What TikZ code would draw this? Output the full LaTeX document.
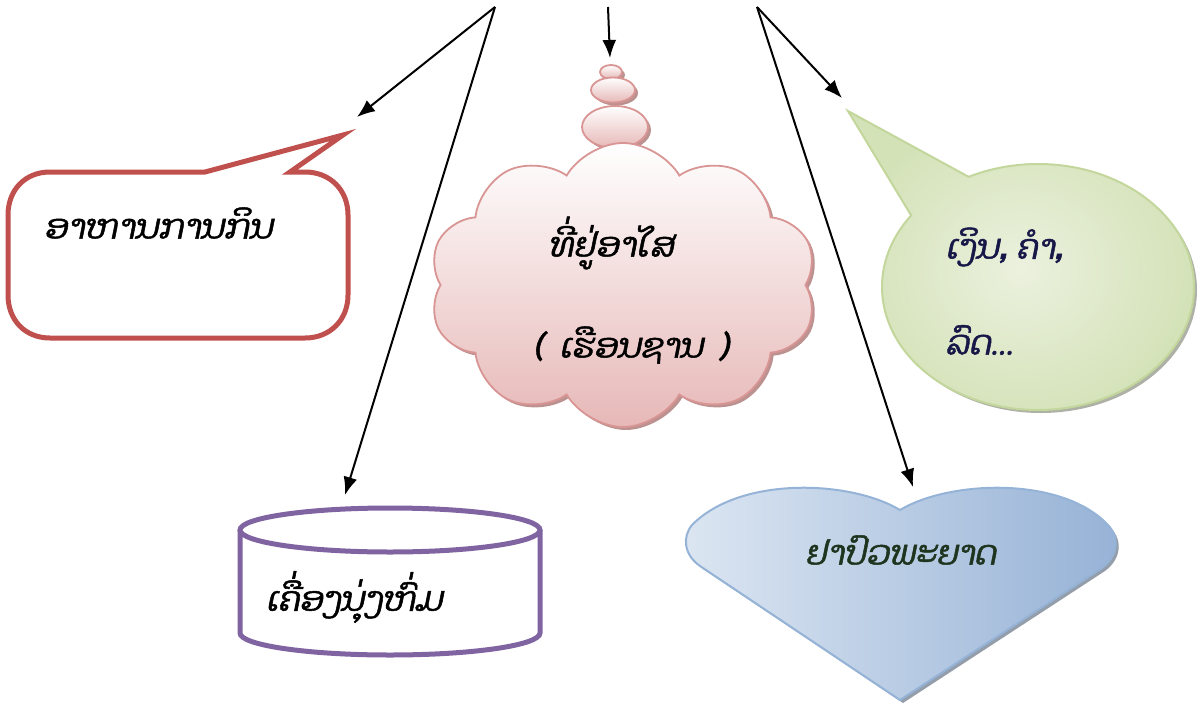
\documentclass[tikz,border=0pt]{standalone}
\usepackage{fontspec}
\usepackage{tikz}
\usetikzlibrary{shapes.geometric, shapes.symbols, shapes.callouts, arrows.meta, shadows}
\newfontfamily\laofont[Script=Lao,FakeSlant=0.2,FakeBold=1.5]{Dhyana}
\definecolor{foodred}{RGB}{192, 80, 77}
\definecolor{clothpurple}{RGB}{128, 100, 162}
\definecolor{cloudline}{RGB}{217, 149, 148}
\definecolor{cloudpink}{RGB}{230, 184, 183}
\definecolor{cloudshadow}{RGB}{160, 100, 98}
\definecolor{moneyline}{RGB}{195, 214, 155}
\definecolor{moneylight}{RGB}{235, 241, 222}
\definecolor{moneydark}{RGB}{212, 226, 184}
\definecolor{moneyink}{RGB}{24, 24, 72}
\definecolor{heartline}{RGB}{149, 179, 215}
\definecolor{heartlight}{RGB}{220, 230, 242}
\definecolor{heartdark}{RGB}{150, 178, 214}
\definecolor{heartink}{RGB}{30, 52, 30}

\begin{document}
\begin{tikzpicture}[x=0.5pt, y=-0.5pt,
    laotext/.style={font=\laofont\fontsize{17}{20}\selectfont, inner sep=0pt},
    arrow/.style={-{Latex[length=9pt,width=7pt]}, line width=1pt},
    bubble/.style={ellipse, draw=cloudline, line width=0.9pt, top color=white, bottom color=cloudpink, inner sep=0pt,
        drop shadow={shadow xshift=1.5pt, shadow yshift=-1.5pt, fill=cloudshadow, opacity=0.7}}
]
\useasboundingbox (0,0) rectangle (1201,707);

% Top start points
\coordinate (srcleft) at (495,7);
\coordinate (srcmid) at (608,7);
\coordinate (srcright) at (757,7);

% Arrow ends
\coordinate (foodtip) at (357,117);
\coordinate (clothtip) at (345,495);
\coordinate (hometip) at (610,58);
\coordinate (moneytip) at (842,98);
\coordinate (medtip) at (913,487);

% Food callout
\draw[draw=foodred, line width=2.5pt, fill=white]
    (205,172) -- (343,135) -- (290,172) -- (305,172)
    .. controls (330,172) and (348,190) .. (348,215) -- (348,295)
    .. controls (348,320) and (330,338) .. (305,338) -- (50,338)
    .. controls (25,338) and (8,320) .. (8,295) -- (8,215)
    .. controls (8,190) and (25,172) .. (50,172) -- cycle;
\node[laotext] (food) at (158,223) {ອາຫານການກິນ};

% Home cloud
\node[bubble, minimum width=11pt, minimum height=7pt] (puffsmall) at (611,72) {};
\node[bubble, minimum width=22pt, minimum height=12.5pt] (puffmid) at (613,90) {};
\node[bubble, minimum width=33pt, minimum height=21pt] (pufflarge) at (615,127) {};
\node[cloud, cloud puffs=10, cloud puff arc=120, draw=cloudline, line width=0.9pt,
    top color=white, bottom color=cloudpink, minimum width=194pt, minimum height=142pt,
    drop shadow={shadow xshift=1.5pt, shadow yshift=-1.5pt, fill=cloudshadow, opacity=0.7}] (cloud) at (623,285) {};
\node[laotext] (home) at (611,243) {ທີ່ຢູ່ອາໄສ};
\node[laotext] (house) at (631,345) {(~~ເຮືອນຊານ~~)};

% Money callout
\node[ellipse callout, draw=moneyline, line width=1pt, inner color=moneylight, outer color=moneydark,
    minimum width=156pt, minimum height=123pt, callout absolute pointer={(848,111)}, callout pointer arc=28,
    drop shadow={shadow xshift=1.5pt, shadow yshift=-1.5pt, fill=gray!70!moneydark, opacity=0.8}] (moneybubble) at (1038,287) {};
\node[laotext, text=moneyink, anchor=west] (money) at (945,247) {ເງິນ,  ຄຳ,};
\node[laotext, text=moneyink, anchor=west] (car) at (945,340) {ລົດ...};

% Clothes cylinder
\path[draw=clothpurple, line width=2.5pt, fill=white]
    (240,530) -- (240,633) arc[start angle=180, end angle=0, x radius=150, y radius=22] -- (540,530);
\draw[clothpurple, line width=2.5pt, fill=white] (390,530) ellipse[x radius=150, y radius=22];
\node[laotext] (clothes) at (354,597) {ເຄື່ອງນຸ່ງຫົ່ມ};

% Medicine heart
\path[draw=heartline, line width=1pt, left color=heartlight, right color=heartdark,
    drop shadow={shadow xshift=1.5pt, shadow yshift=-1.5pt, fill=gray!60!heartdark, opacity=0.9}]
    (900,510) .. controls (850,480) and (740,476) .. (692,525)
    .. controls (682,537) and (684,555) .. (700,566) -- (900,700) -- (1102,568)
    .. controls (1118,556) and (1120,538) .. (1108,525)
    .. controls (1062,476) and (950,480) .. (900,510) -- cycle;
\node[laotext, text=heartink] (medicine) at (900,550) {ຢາປົວພະຍາດ};

% Arrows
\draw[arrow] (srcleft) -- (foodtip);
\draw[arrow] (srcleft) -- (clothtip);
\draw[arrow] (srcmid) -- (hometip);
\draw[arrow] (srcright) -- (moneytip);
\draw[arrow] (srcright) -- (medtip);

\end{tikzpicture}
\end{document}
